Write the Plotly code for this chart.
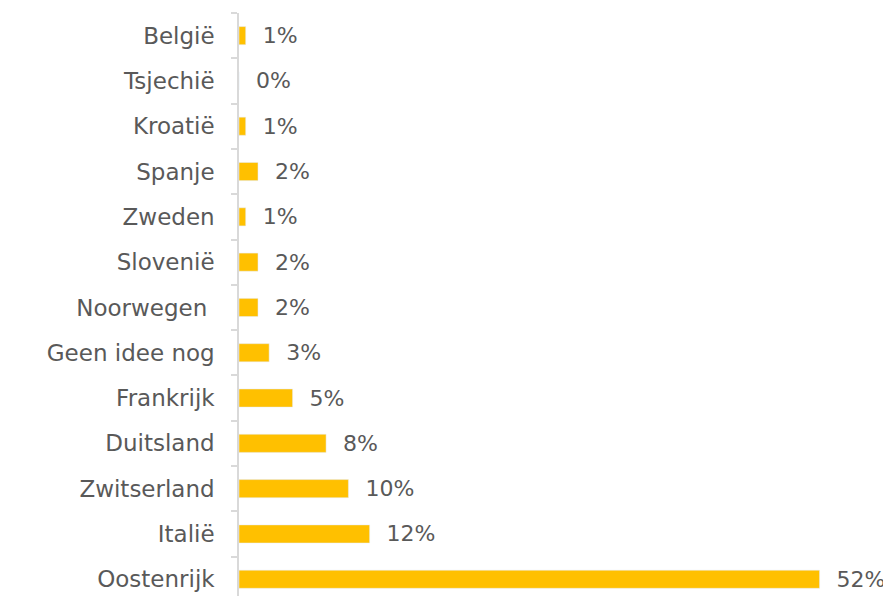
import plotly.graph_objects as go

# bottom-to-top order
countries = [
    "Oostenrijk", "Italië", "Zwitserland", "Duitsland", "Frankrijk",
    "Geen idee nog", "Noorwegen\u00a0", "Slovenië", "Zweden", "Spanje",
    "Kroatië", "Tsjechië", "België",
]
shares = [52, 11.7, 9.8, 7.8, 4.8, 2.7, 1.7, 1.7, 0.6, 1.7, 0.6, 0, 0.6]

GREY = "#595959"
FONT = "DejaVu Sans"

fig = go.Figure(
    go.Bar(
        x=shares,
        y=countries,
        orientation="h",
        marker=dict(color="#FFC000"),
        width=0.4,
        texttemplate="\u00a0\u00a0%{x:.0f}%",
        textposition="outside",
        constraintext="none",
        textfont=dict(family=FONT, size=22, color=GREY),
        cliponaxis=False,
    )
)

# page body has an 8px margin, so the figure is shifted by 8px
fig.update_layout(
    width=883,
    height=588,
    margin=dict(l=231, r=0, t=5, b=0),
    plot_bgcolor="white",
    paper_bgcolor="white",
    showlegend=False,
    font=dict(family=FONT, size=23, color=GREY),
)
fig.update_xaxes(range=[0, 58.4], visible=False)
fig.update_yaxes(
    type="category",
    range=[-0.37, 12.5],
    showline=True,
    linecolor="#d9d9d9",
    linewidth=1.5,
    ticks="outside",
    tickson="boundaries",
    ticklen=6,
    tickcolor="#d9d9d9",
    tickwidth=1.5,
    ticklabelstandoff=18,
    showgrid=False,
)

fig.write_html("out.html")
